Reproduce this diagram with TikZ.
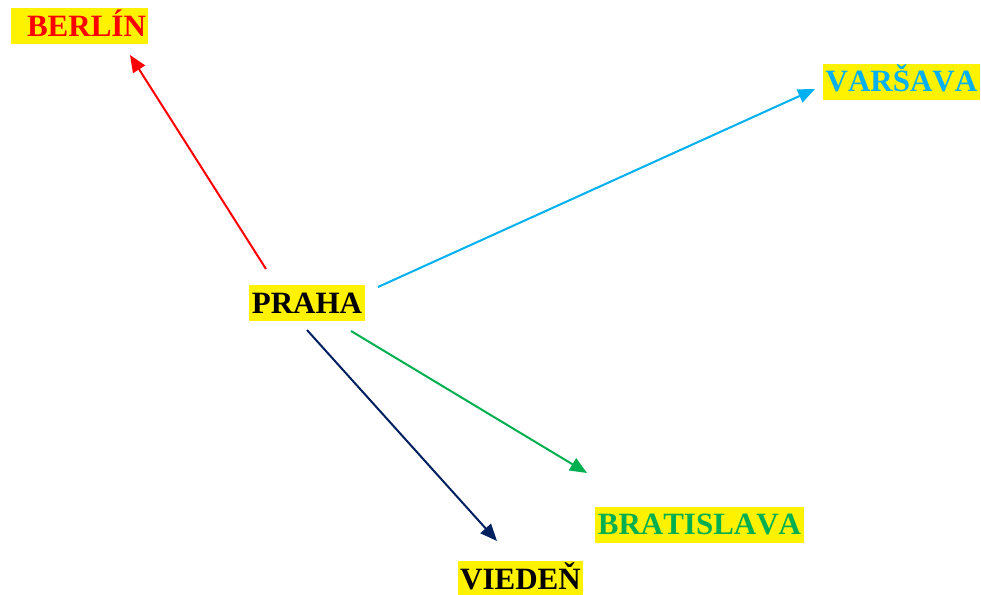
\documentclass[tikz,border=0pt]{standalone}
\usepackage{fontspec}
\setmainfont[Kerning=Off]{Liberation Serif}
\usetikzlibrary{arrows.meta}
\definecolor{cyanline}{RGB}{0,176,240}
\definecolor{greenline}{RGB}{0,176,80}
\definecolor{navyline}{RGB}{0,32,96}
\tikzset{
	city/.style={fill=yellow, inner xsep=2.5pt, inner ysep=2pt, text height=26pt, text depth=6pt, font=\fontsize{31}{37}\selectfont\bfseries},
	link/.style={line width=2pt, -{Triangle[length=17pt, width=14pt]}}
}

\begin{document}
\begin{tikzpicture}[x=1pt, y=-1pt]
	\useasboundingbox (0, 0) rectangle (981, 594);
	\node[city, text=red] (berlin) at (79.5, 26.5) {\hspace*{.45em}BERLÍN};
	\node[city, text=cyanline] (varsava) at (901.5, 81.5) {VARŠAVA};
	\node[city, text=black] (praha) at (307, 303) {PRAHA};
	\node[city, text=greenline] (bratislava) at (699.5, 524.5) {BRATISLAVA};
	\node[city, text=black] (vieden) at (520.5, 579) {VIEDEŇ};
	% konce sipok
	\coordinate (p-berlin) at (266, 269);
	\coordinate (berlin-in) at (130, 55);
	\coordinate (p-varsava) at (378, 287);
	\coordinate (varsava-in) at (815, 89);
	\coordinate (p-bratislava) at (351, 331);
	\coordinate (bratislava-in) at (587, 473);
	\coordinate (p-vieden) at (307, 330);
	\coordinate (vieden-in) at (497, 541);
	\draw[link, red] (p-berlin) -- (berlin-in);
	\draw[link, cyanline] (p-varsava) -- (varsava-in);
	\draw[link, greenline] (p-bratislava) -- (bratislava-in);
	\draw[link, navyline] (p-vieden) -- (vieden-in);
\end{tikzpicture}
\end{document}
